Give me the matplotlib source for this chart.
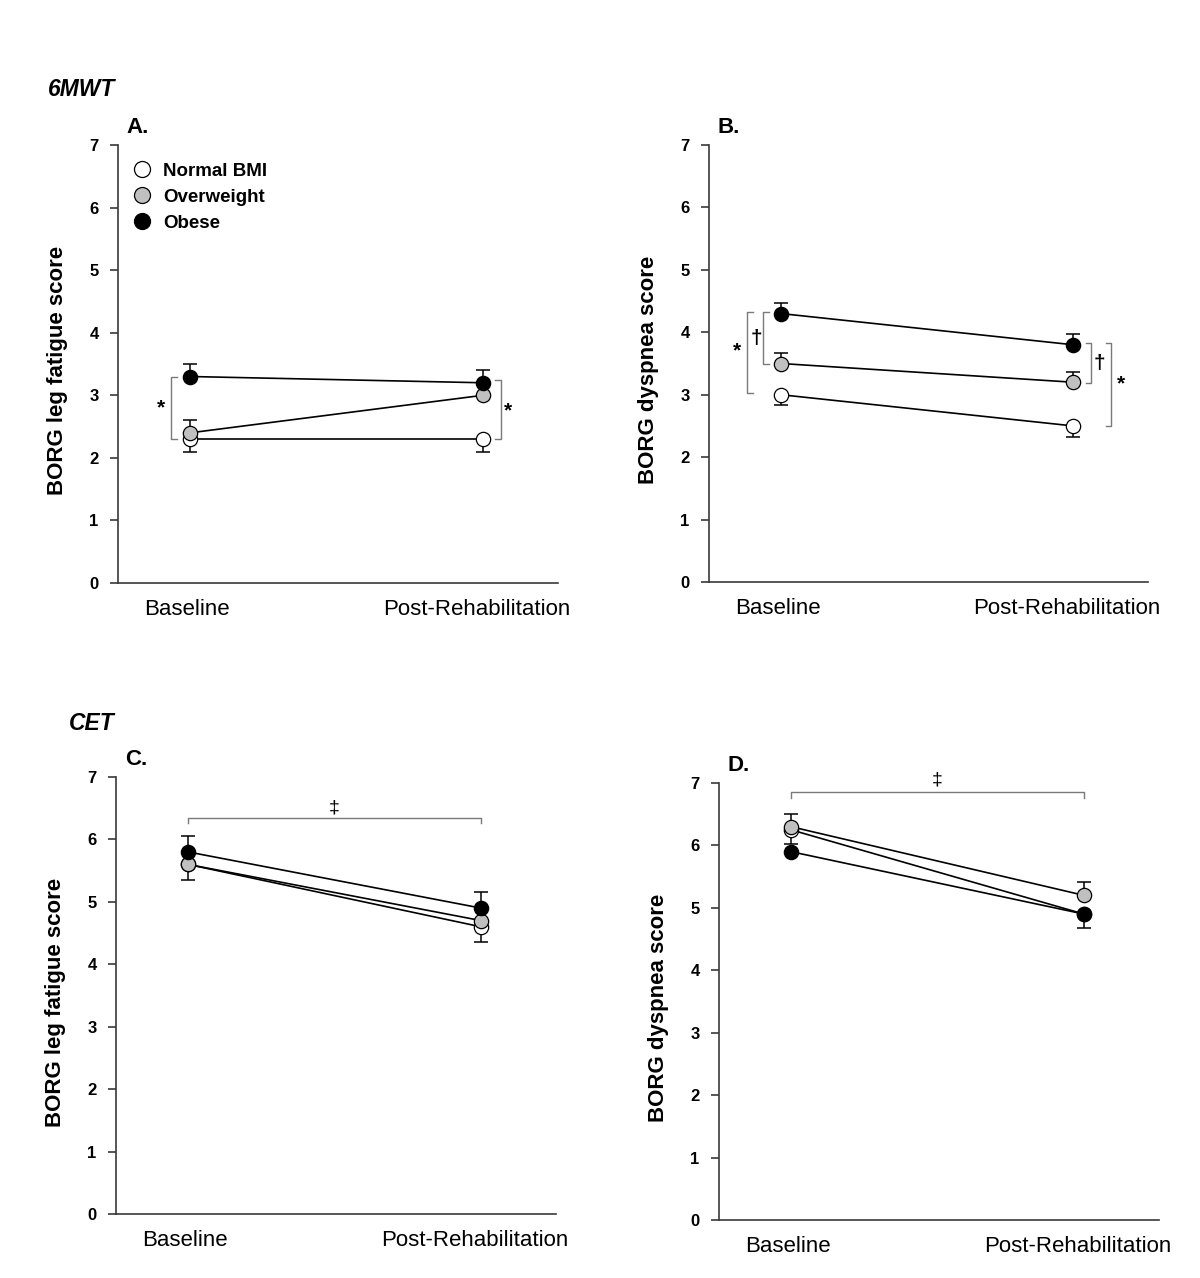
import matplotlib
matplotlib.use("Agg")
import matplotlib.pyplot as plt
import numpy as np

plt.rcParams['font.family'] = ['Liberation Sans', 'DejaVu Sans']

time_labels = ["Baseline", "Post-Rehabilitation"]
groups = ["Normal BMI", "Overweight", "Obese"]
face_colors = ["white", "#c0c0c0", "black"]

# Panel A: 6MWT leg fatigue
A_normal = [2.3, 2.3]; A_over = [2.4, 3.0]; A_obese = [3.3, 3.2]
A_normal_err = ([0.2, 0.2], [0, 0]); A_over_err = ([0, 0], [0.2, 0]); A_obese_err = ([0, 0], [0.2, 0.2])
# Panel B: 6MWT dyspnea
B_normal = [3.0, 2.5]; B_over = [3.5, 3.2]; B_obese = [4.3, 3.8]
B_normal_err = ([0.17, 0.17], [0, 0]); B_over_err = ([0, 0], [0.17, 0.17]); B_obese_err = ([0, 0], [0.17, 0.18])
# Panel C: CET leg fatigue
C_normal = [5.6, 4.6]; C_over = [5.6, 4.7]; C_obese = [5.8, 4.9]
C_normal_err = ([0.25, 0.25], [0, 0]); C_over_err = ([0, 0], [0, 0]); C_obese_err = ([0, 0], [0.25, 0.25])
# Panel D: CET dyspnea
D_normal = [6.25, 4.9]; D_over = [6.3, 5.2]; D_obese = [5.9, 4.9]
D_normal_err = ([0.23, 0.22], [0, 0]); D_over_err = ([0, 0], [0.2, 0.22]); D_obese_err = ([0, 0], [0, 0])

panels = [
    dict(pos=[118/1200, 1-583/1278, 440/1200, 438/1278], letter="A.", ylabel="BORG leg fatigue score",
         data=[A_normal, A_over, A_obese], err=[A_normal_err, A_over_err, A_obese_err]),
    dict(pos=[709/1200, 1-582/1278, 439/1200, 437/1278], letter="B.", ylabel="BORG dyspnea score",
         data=[B_normal, B_over, B_obese], err=[B_normal_err, B_over_err, B_obese_err]),
    dict(pos=[116/1200, 1-1214/1278, 440/1200, 437/1278], letter="C.", ylabel="BORG leg fatigue score",
         data=[C_normal, C_over, C_obese], err=[C_normal_err, C_over_err, C_obese_err]),
    dict(pos=[719/1200, 1-1220/1278, 440/1200, 437/1278], letter="D.", ylabel="BORG dyspnea score",
         data=[D_normal, D_over, D_obese], err=[D_normal_err, D_over_err, D_obese_err]),
]

fig = plt.figure(figsize=(12, 12.78), dpi=100)
axes = []
x = np.arange(len(time_labels))
label_shift = [-0.01, -0.022]
spine_c = "#3a3a3a"
br_c = "#7a7a7a"

for p in panels:
    ax = fig.add_axes(p["pos"])
    axes.append(ax)
    for vals, (lo, hi), fc, g in zip(p["data"], p["err"], face_colors, groups):
        ax.errorbar(x, vals, yerr=[lo, hi], fmt='none', ecolor='black', elinewidth=1.1,
                    capsize=4.8, capthick=1.1, zorder=2)
        ax.plot(x, vals, color='black', lw=1.2, zorder=3)
        ax.plot(x, vals, 'o', ms=10.3, mfc=fc, mec='black', mew=0.9, zorder=4, label=g, ls='none')
    ax.set_xlim(-0.246, 1.256)
    ax.set_ylim(0, 7)
    ax.set_yticks(range(0, 8))
    ax.set_yticklabels([str(i) for i in range(8)], fontweight='bold', fontsize=12)
    ax.set_xticks([])
    for lbl, xi, sh in zip(time_labels, x, label_shift):
        ax.text(xi + sh, -0.25, lbl, ha='center', va='top', fontsize=16)
    ax.spines['top'].set_visible(False)
    ax.spines['right'].set_visible(False)
    for s in ['left', 'bottom']:
        ax.spines[s].set_color(spine_c)
        ax.spines[s].set_linewidth(1.2)
    ax.tick_params(axis='y', direction='out', length=6, width=1.2, color=spine_c, pad=8)
    ax.set_ylabel(p["ylabel"], fontweight='bold', fontsize=16, labelpad=10)
    ax.yaxis.set_label_coords(-0.113, 0.485)
    ax.text(0.02, 1.015, p["letter"], transform=ax.transAxes, fontsize=16, fontweight='bold',
            ha='left', va='bottom')

# Legend in panel A
axA = axes[0]
axA.legend(loc='upper left', bbox_to_anchor=(0.0, 0.99), frameon=False, handletextpad=0.5,
           prop=dict(weight='bold', size=13.5), labelspacing=0.47, handlelength=1.2,
           borderaxespad=0.3, markerscale=1.12)

def vbracket(ax, xb, y0, y1, dx, label, xl, yl):
    ax.plot([xb + dx, xb, xb, xb + dx], [y0, y0, y1, y1], color=br_c, lw=1.0, clip_on=False, zorder=1)
    ax.text(xl, yl, label, ha='center', va='center', fontsize=15, fontweight='bold')

def hbracket(ax, x0, x1, yb, dy, label, yl):
    ax.plot([x0, x0, x1, x1], [yb - dy, yb, yb, yb - dy], color=br_c, lw=1.0, clip_on=False, zorder=1)
    ax.text((x0 + x1) / 2, yl, label, ha='center', va='center', fontsize=14)

# A
vbracket(axA, -0.065, 3.3, 2.3, 0.02, "*", -0.10, 2.8)
vbracket(axA, 1.06, 3.25, 2.3, -0.018, "*", 1.085, 2.75)
# B
axB = axes[1]
vbracket(axB, -0.117, 4.33, 3.03, 0.02, "*", -0.15, 3.7)
vbracket(axB, -0.062, 4.32, 3.5, 0.02, "\u2020", -0.085, 3.9)
vbracket(axB, 1.062, 3.83, 3.19, -0.018, "\u2020", 1.09, 3.5)
vbracket(axB, 1.13, 3.83, 2.5, -0.018, "*", 1.165, 3.17)
# C
axC = axes[2]
hbracket(axC, 0.0, 1.0, 6.35, 0.09, "\u2021", 6.51)
# D
axD = axes[3]
hbracket(axD, 0.0, 1.0, 6.85, 0.09, "\u2021", 7.05)

fig.text(115/1200, 1-90/1278, "6MWT", ha='right', va='center', fontsize=16.5, fontweight='bold', style='italic')
fig.text(115/1200, 1-724/1278, "CET", ha='right', va='center', fontsize=16.5, fontweight='bold', style='italic')

fig.savefig("out.png", dpi=100)
